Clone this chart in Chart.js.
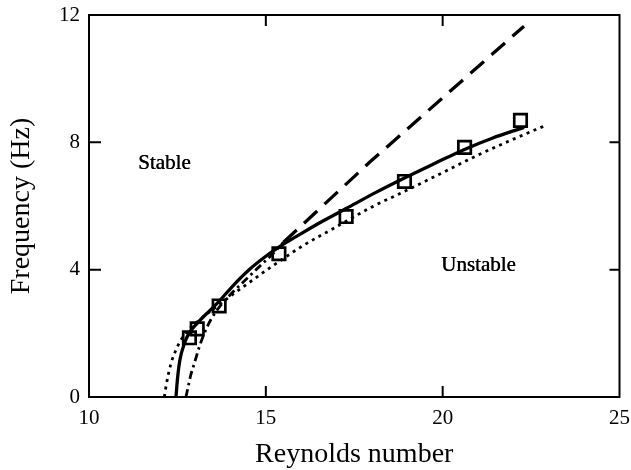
<!DOCTYPE html>
<html>
<head>
<meta charset="utf-8">
<script src="https://cdn.jsdelivr.net/npm/chart.js@4.4.1/dist/chart.umd.min.js"></script>
<style>
  html, body { margin: 0; padding: 0; background: #fff; }
  #wrap { width: 631px; height: 470px; position: relative; }
</style>
</head>
<body>
<div id="wrap"><canvas id="c" width="631" height="470"></canvas></div>
<script>
// ---- data ----
const xTicks = [10, 15, 20, 25];
const yTicks = [0, 4, 8, 12];

// measured points (squares)
const measRe = [12.84, 13.06, 13.68, 15.37, 17.27, 18.92, 20.62, 22.2];
const measF  = [1.86, 2.14, 2.86, 4.5, 5.67, 6.77, 7.84, 8.69];

// solid curve
const solidRe = [12.46, 12.5, 12.57, 12.7, 12.84, 13.07, 13.4, 13.65, 14.05, 14.52, 15.0, 15.5, 15.95, 16.6, 17.27, 18.1, 18.92, 19.8, 20.6, 21.4, 22.3];
const solidF  = [0, 0.55, 1.16, 1.69, 2.02, 2.33, 2.7, 2.97, 3.47, 3.99, 4.42, 4.8, 5.1, 5.52, 5.92, 6.42, 6.88, 7.35, 7.77, 8.13, 8.47];

// dotted curve
const dotRe = [12.13, 12.18, 12.23, 12.32, 12.46, 12.6, 12.85, 13.1, 13.5, 14.0, 14.5, 15.0, 15.5, 16.0, 17.0, 18.0, 19.0, 20.0, 21.0, 22.0, 22.95];
const dotF  = [0, 0.35, 0.64, 1.06, 1.48, 1.79, 2.15, 2.4, 2.75, 3.17, 3.57, 3.97, 4.35, 4.72, 5.35, 5.97, 6.5, 7.05, 7.6, 8.1, 8.55];

// dash-dot curve (near onset)
const dashDotRe = [12.74, 12.8, 12.88, 12.98, 13.12, 13.26, 13.44, 13.7, 14.0, 14.4, 14.8, 15.2, 15.5];
const dashDotF  = [0, 0.3, 0.7, 1.06, 1.58, 2.0, 2.42, 2.85, 3.22, 3.65, 4.08, 4.5, 4.86];

// long-dashed straight continuation
const dashRe = [15.5, 17.94, 22.3];
const dashF  = [4.86, 7.38, 11.65];

// region labels
const regionLabels = ['Stable', 'Unstable'];
const regionRe = [12.13, 21.01];
const regionF  = [7.33, 4.12];

const pts = (xs, ys) => xs.map((x, i) => ({ x: x, y: ys[i] }));

const SERIF = '"Liberation Serif", "DejaVu Serif", "Times New Roman", serif';

const framePlugin = {
  id: 'frame',
  afterDraw(chart) {
    const ctx = chart.ctx;
    const a = chart.chartArea;
    const xs = chart.scales.x, ys = chart.scales.y;
    ctx.save();
    ctx.strokeStyle = '#000';
    ctx.lineWidth = 2;
    ctx.strokeRect(a.left, a.top, a.right - a.left, a.bottom - a.top);
    const tl = 11;
    ctx.beginPath();
    [15, 20].forEach(v => {
      const px = xs.getPixelForValue(v);
      ctx.moveTo(px, a.bottom); ctx.lineTo(px, a.bottom - tl);
      ctx.moveTo(px, a.top); ctx.lineTo(px, a.top + tl);
    });
    [4, 8].forEach(v => {
      const py = ys.getPixelForValue(v);
      ctx.moveTo(a.left, py); ctx.lineTo(a.left + 12, py);
      ctx.moveTo(a.right, py); ctx.lineTo(a.right - 10, py);
    });
    ctx.stroke();
    ctx.fillStyle = '#000';
    ctx.font = '21px ' + SERIF;
    ctx.textAlign = 'center';
    ctx.textBaseline = 'middle';
    regionLabels.forEach((t, i) => {
      const px = xs.getPixelForValue(regionRe[i]);
      const py = ys.getPixelForValue(regionF[i]);
      ctx.fillText(t, px, py);
      ctx.fillText(t, px + 0.4, py);
    });
    ctx.restore();
  }
};

new Chart(document.getElementById('c'), {
  type: 'scatter',
  data: {
    datasets: [
      {
        label: 'solid',
        data: pts(solidRe, solidF),
        showLine: true,
        borderColor: '#000',
        borderWidth: 3.3,
        pointRadius: 0,
        cubicInterpolationMode: 'monotone',
        fill: false
      },
      {
        label: 'dotted',
        data: pts(dotRe, dotF),
        showLine: true,
        borderColor: '#000',
        borderWidth: 2.8,
        borderDash: [3, 4.5],
        pointRadius: 0,
        cubicInterpolationMode: 'monotone',
        fill: false
      },
      {
        label: 'dashdot',
        data: pts(dashDotRe, dashDotF),
        showLine: true,
        borderColor: '#000',
        borderWidth: 2.8,
        borderDash: [8, 4, 2.5, 4],
        pointRadius: 0,
        cubicInterpolationMode: 'monotone',
        fill: false
      },
      {
        label: 'dashed',
        data: pts(dashRe, dashF),
        showLine: true,
        borderColor: '#000',
        borderWidth: 3.3,
        borderDash: [18, 10],
        pointRadius: 0,
        tension: 0,
        fill: false
      },
      {
        label: 'measured',
        data: pts(measRe, measF),
        showLine: false,
        pointStyle: 'rect',
        pointRadius: 8.8,
        pointBorderWidth: 2.7,
        pointBorderColor: '#000',
        pointBackgroundColor: 'rgba(255,255,255,0)'
      }
    ]
  },
  options: {
    responsive: false,
    animation: false,
    devicePixelRatio: 1,
    layout: { padding: { top: 15, right: 6, left: 0, bottom: 0 } },
    plugins: {
      legend: { display: false },
      tooltip: { enabled: false }
    },
    scales: {
      x: {
        type: 'linear',
        min: 10, max: 25,
        afterBuildTicks: s => { s.ticks = xTicks.map(v => ({ value: v })); },
        afterFit: s => { s.height = 73; s.paddingLeft = 0; s.paddingRight = 0; },
        grid: { display: false, drawTicks: false },
        border: { display: false },
        ticks: {
          color: '#000',
          font: { family: SERIF, size: 21 },
          padding: 9,
          maxRotation: 0
        },
        title: {
          display: true,
          text: 'Reynolds number',
          color: '#000',
          font: { family: SERIF, size: 28 },
          padding: { top: 0, bottom: -1 }
        }
      },
      y: {
        type: 'linear',
        min: 0, max: 12,
        afterBuildTicks: s => { s.ticks = yTicks.map(v => ({ value: v })); },
        afterFit: s => { s.width = 89; s.paddingTop = 0; s.paddingBottom = 0; },
        grid: { display: false, drawTicks: false },
        border: { display: false },
        ticks: {
          color: '#000',
          font: { family: SERIF, size: 21 },
          padding: 9
        },
        title: {
          display: true,
          text: 'Frequency (Hz)',
          color: '#000',
          font: { family: SERIF, size: 28 },
          padding: { top: 5, bottom: 0 }
        }
      }
    }
  },
  plugins: [framePlugin]
});
</script>
</body>
</html>
